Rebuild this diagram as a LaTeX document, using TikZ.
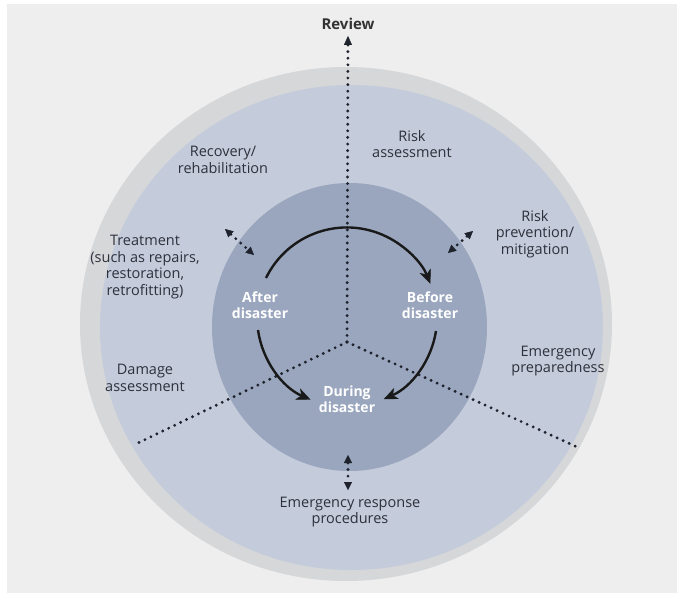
\documentclass[tikz,border=0pt]{standalone}
\usepackage{fontspec}
\setmainfont{Open Sans}
\usepackage{xcolor}
\usepackage{tikz}
\usetikzlibrary{arrows.meta}
\definecolor{paper}{RGB}{238,238,238}
\definecolor{rim}{RGB}{214,215,217}
\definecolor{outerdisk}{RGB}{196,203,219}
\definecolor{innerdisk}{RGB}{153,166,189}
\definecolor{ink}{RGB}{45,49,60}
\definecolor{dotink}{RGB}{30,34,44}

\begin{document}
\begin{tikzpicture}[x=1pt,y=-1pt,
    every node/.style={align=center,inner sep=0pt,text=ink,font=\fontsize{14.5}{16.5}\selectfont},
    phase/.style={text=white,font=\fontsize{14}{16.5}\selectfont\bfseries},
    dotline/.style={draw=dotink,line width=3.2pt,line cap=round,dash pattern=on 0pt off 6.6pt},
    twoway/.style={dotline,{Triangle[length=8pt,width=8pt,line width=0.4pt]}-{Triangle[length=8pt,width=8pt,line width=0.4pt]}},
    cyclearrow/.style={draw=black!90,line width=2.4pt,-{Stealth[length=14pt,width=12pt,inset=4pt,line width=0.4pt]}}]
    \useasboundingbox (0,0) rectangle (683,598);
    \fill[white] (0,0) rectangle (683,598);
    \fill[paper] (7,4) rectangle (677,593);
    \fill[rim] (346,324) ellipse [x radius=266pt,y radius=257pt];
    \fill[outerdisk] (351.5,327.5) ellipse [x radius=251.5pt,y radius=242.5pt];
    \fill[innerdisk] (349.5,327) ellipse [x radius=137.5pt,y radius=144pt];
    \coordinate (hub) at (347,342);
    \coordinate (leftend) at (138,443);
    \coordinate (rightend) at (577,447);
    \node[font=\fontsize{15}{17}\selectfont\bfseries,text=black!80] (review) at (348,24) {Review};
    \node (riskas) at (412,144) {Risk\\assessment};
    \node (recov) at (223,160) {Recovery/\\rehabilitation};
    \node (treat) at (145,267) {Treatment\\(such as repairs,\\restoration,\\retrofitting)};
    \node (damage) at (145,378) {Damage\\assessment};
    \node (prevent) at (535,234) {Risk\\prevention/\\mitigation};
    \node (prepare) at (558,361) {Emergency\\preparedness};
    \node (response) at (350,512) {Emergency response\\procedures};
    \node[phase] (after) at (260,305) {After\\disaster};
    \node[phase] (before) at (430,305) {Before\\disaster};
    \node[phase] (during) at (347,399) {During\\disaster};
    \draw[dotline,-{Triangle[length=9pt,width=8pt,line width=0.4pt]}] (hub) -- ([yshift=-6pt]review.south);
    \draw[dotline] (hub) -- (leftend);
    \draw[dotline] (hub) -- (rightend);
    \coordinate (tl1) at (225,229);
    \coordinate (tl2) at (254,255);
    \coordinate (tr1) at (473,231);
    \coordinate (tr2) at (448,253);
    \coordinate (bt1) at (348,455);
    \coordinate (bt2) at (348,490);
    \draw[twoway] (tl1) -- (tl2);
    \draw[twoway] (tr1) -- (tr2);
    \draw[twoway] (bt1) -- (bt2);
    \coordinate (toparc) at (266,278);
    \coordinate (rightarc) at (436,331);
    \coordinate (leftarc) at (258,330);
    \draw[cyclearrow] (toparc) arc[start angle=-154,end angle=-22,radius=90];
    \draw[cyclearrow] (rightarc) arc[start angle=9,end angle=66,radius=90];
    \draw[cyclearrow] (leftarc) arc[start angle=172,end angle=114,radius=90];
\end{tikzpicture}
\end{document}
